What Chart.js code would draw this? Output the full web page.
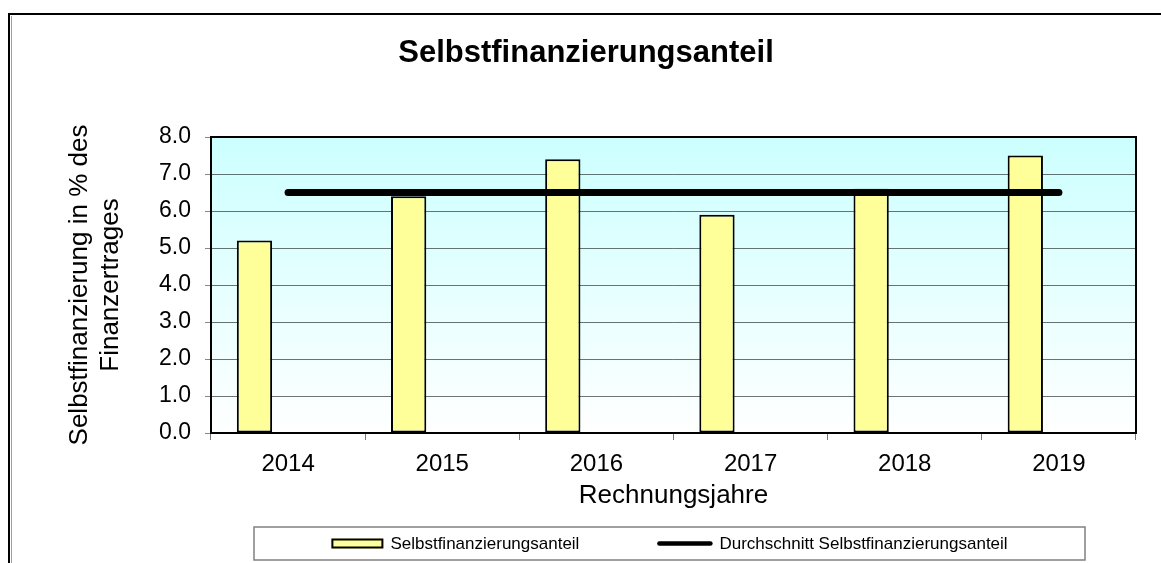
<!DOCTYPE html>
<html><head><meta charset="utf-8">
<script src="https://cdn.jsdelivr.net/npm/chart.js@4.4.1/dist/chart.umd.min.js"></script>
<style>html,body{margin:0;padding:0;background:#fff;} canvas{display:block;}</style>
</head><body>
<canvas id="c" width="1161" height="563"></canvas>
<script>
// ---- data ----
const categories = ['2014', '2015', '2016', '2017', '2018', '2019'];
const shareValues = [5.2, 6.4, 7.4, 5.9, 6.6, 7.5];
const averageValues = [6.5, 6.5, 6.5, 6.5, 6.5, 6.5];
const yTickLabels = ['0.0', '1.0', '2.0', '3.0', '4.0', '5.0', '6.0', '7.0', '8.0'];
const seriesNames = ['Selbstfinanzierungsanteil', 'Durchschnitt Selbstfinanzierungsanteil'];
const chartTitle = 'Selbstfinanzierungsanteil';
const xAxisTitle = 'Rechnungsjahre';
const yAxisTitle = ['Selbstfinanzierung in % des', 'Finanzertrages'];

const FONT = '"Liberation Sans", Arial, Helvetica, sans-serif';

const pagePlugin = {
  id: 'pageDeco',
  beforeDraw(chart) {
    const {ctx, chartArea: a, width, height} = chart;
    ctx.save();
    ctx.fillStyle = '#ffffff';
    ctx.fillRect(0, 0, width, height);
    // outer frame
    ctx.strokeStyle = '#000';
    ctx.lineWidth = 2;
    ctx.beginPath();
    ctx.moveTo(9, height + 5); ctx.lineTo(9, 14); ctx.lineTo(width + 5, 14);
    ctx.stroke();
    ctx.strokeStyle = '#a0a0a0';
    ctx.lineWidth = 1;
    ctx.beginPath();
    ctx.moveTo(11.5, 16); ctx.lineTo(11.5, height + 5);
    ctx.stroke();
    // plot background gradient
    const g = ctx.createLinearGradient(0, a.top, 0, a.bottom);
    g.addColorStop(0, '#CCFFFF');
    g.addColorStop(1, '#FFFFFF');
    ctx.fillStyle = g;
    ctx.fillRect(a.left, a.top, a.right - a.left, a.bottom - a.top);
    ctx.restore();
  },
  afterDatasetsDraw(chart) {
    const {ctx, chartArea: a} = chart;
    ctx.save();
    ctx.strokeStyle = '#000';
    ctx.lineWidth = 2;
    ctx.strokeRect(a.left, a.top, a.right - a.left, a.bottom - a.top);
    ctx.restore();
  },
  afterDraw(chart) {
    const ctx = chart.ctx;
    const box = {left: 254, top: 527, right: 1085, bottom: 560};
    ctx.save();
    ctx.strokeStyle = '#808080';
    ctx.lineWidth = 1.5;
    ctx.strokeRect(box.left, box.top, box.right - box.left, box.bottom - box.top);
    ctx.font = '17px ' + FONT;
    const ds = chart.data.datasets;
    const items = [
      {text: seriesNames[0], type: 'bar', w: 52, ds: ds[1]},
      {text: seriesNames[1], type: 'line', w: 55, ds: ds[0]}
    ];
    const gapText = 7, gapItem = 78;
    let total = 0;
    items.forEach((it, i) => {
      it.tw = ctx.measureText(it.text).width;
      total += it.w + gapText + it.tw + (i ? gapItem : 0);
    });
    let x = (box.left + box.right) / 2 - total / 2;
    const cy = (box.top + box.bottom) / 2;
    ctx.textBaseline = 'middle';
    ctx.textAlign = 'left';
    items.forEach((it) => {
      if (it.type === 'bar') {
        ctx.fillStyle = it.ds.backgroundColor;
        ctx.fillRect(x, cy - 5, it.w, 10);
        ctx.strokeStyle = it.ds.borderColor;
        ctx.lineWidth = 2;
        ctx.strokeRect(x + 1, cy - 4, it.w - 2, 8);
      } else {
        ctx.strokeStyle = it.ds.borderColor;
        ctx.lineWidth = 4.5;
        ctx.lineCap = 'round';
        ctx.beginPath();
        ctx.moveTo(x + 2, cy); ctx.lineTo(x + it.w - 2, cy);
        ctx.stroke();
      }
      ctx.fillStyle = '#000';
      ctx.fillText(it.text, x + it.w + gapText, cy + 1);
      x += it.w + gapText + it.tw + gapItem;
    });
    ctx.restore();
  }
};

new Chart(document.getElementById('c'), {
  data: {
    labels: categories,
    datasets: [
      {
        type: 'line',
        label: seriesNames[1],
        data: averageValues,
        borderColor: '#000000',
        backgroundColor: '#000000',
        borderWidth: 7,
        borderCapStyle: 'round',
        pointRadius: 0,
        tension: 0,
        order: 0
      },
      {
        type: 'bar',
        label: seriesNames[0],
        data: shareValues,
        backgroundColor: '#FFFF99',
        borderColor: '#000000',
        borderWidth: 2,
        borderSkipped: false,
        categoryPercentage: 0.872,
        barPercentage: 0.525,
        order: 1
      },
      {
        type: 'bar',
        label: '',
        data: categories.map(() => null),
        backgroundColor: 'rgba(0,0,0,0)',
        categoryPercentage: 0.872,
        barPercentage: 0.525,
        order: 2
      }
    ]
  },
  options: {
    responsive: false,
    animation: false,
    devicePixelRatio: 1,
    layout: {padding: {left: 36, right: 25, top: 0, bottom: 43}},
    plugins: {
      legend: {display: false},
      tooltip: {enabled: false},
      title: {
        display: true,
        text: chartTitle,
        color: '#000',
        font: {family: FONT, size: 31, weight: 'bold', lineHeight: 1.2},
        padding: {top: 35, bottom: 64.8}
      }
    },
    scales: {
      x: {
        offset: true,
        grid: {display: true, drawOnChartArea: false, drawTicks: true, tickLength: 7, color: '#777', offset: true},
        border: {display: false},
        ticks: {color: '#000', font: {family: FONT, size: 24}, padding: 10, maxRotation: 0},
        title: {display: true, text: xAxisTitle, color: '#000', font: {family: FONT, size: 26, lineHeight: 1.2}, padding: {top: 0, bottom: 9}},
        afterFit(scale) { scale.height = 87; }
      },
      y: {
        min: 0, max: 8,
        ticks: {stepSize: 1, color: '#000', font: {family: FONT, size: 23}, padding: 14,
          callback: (v) => yTickLabels[v] !== undefined ? yTickLabels[v] : v},
        grid: {color: 'rgba(0,0,0,0.55)', tickLength: 6, lineWidth: 1, tickColor: '#888'},
        border: {display: false},
        title: {display: true, text: yAxisTitle, color: '#000', font: {family: FONT, size: 26, lineHeight: 1.2}, padding: {top: 28, bottom: 0}},
        afterFit(scale) { scale.width = 175; }
      }
    }
  },
  plugins: [pagePlugin]
});
</script>
</body></html>
